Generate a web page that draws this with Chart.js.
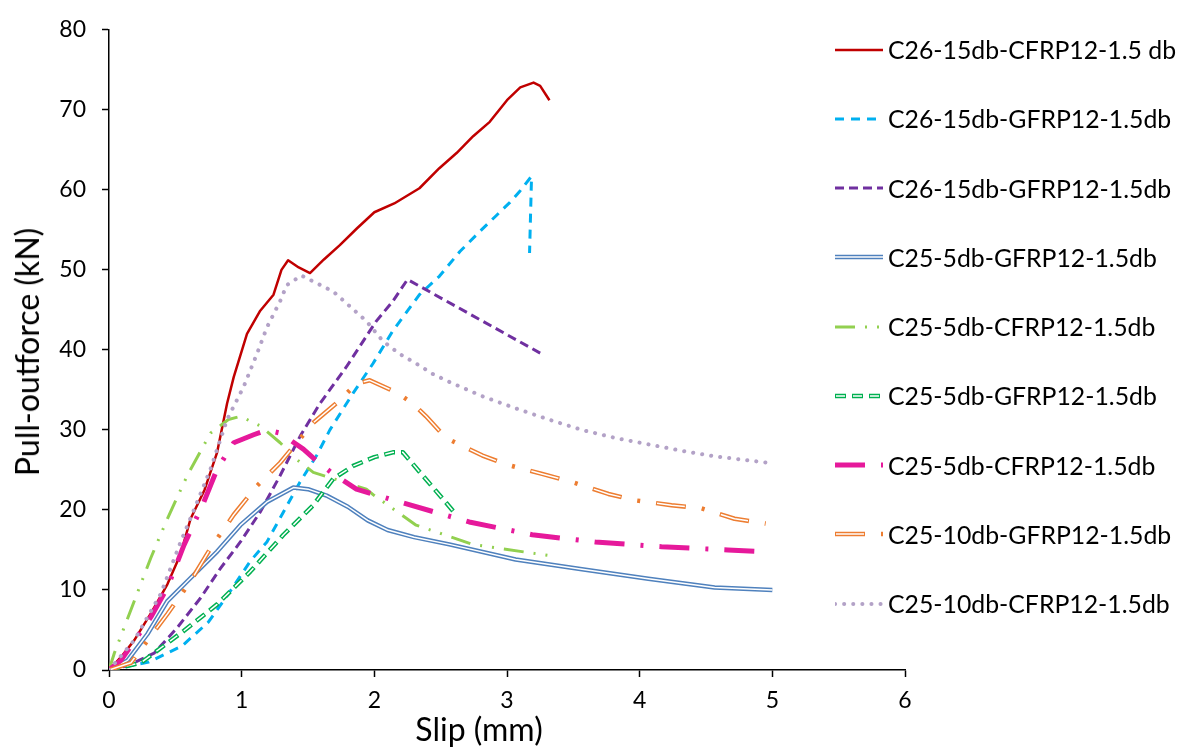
<!DOCTYPE html>
<html>
<head>
<meta charset="utf-8">
<script src="https://cdn.jsdelivr.net/npm/chart.js@4.4.1/dist/chart.umd.min.js"></script>
<style>
  html, body { margin: 0; padding: 0; background: #fff; }
  #wrap { position: relative; width: 1189px; height: 754px; font-family: Lato, "Open Sans", sans-serif; color: #000; }
  #chart { position: absolute; left: 0; top: 0; }
  .axis-title { position: absolute; font-size: 32px; white-space: nowrap; line-height: 1; }
  #xtitle { left: 479px; top: 729px; transform: translate(-50%, -50%); }
  #ytitle { left: 27px; top: 352px; transform: translate(-50%, -50%) rotate(-90deg); }
  #legend { position: absolute; left: 835px; top: 15px; }
  .row { display: flex; align-items: center; height: 69.25px; }
  .row svg { width: 48px; height: 12px; margin-right: 5px; flex: none; }
  .row span { font-size: 24.8px; white-space: nowrap; }
</style>
</head>
<body>
<div id="wrap">
  <canvas id="chart" width="1189" height="754"></canvas>
  <div id="ytitle" class="axis-title">Pull-outforce (kN)</div>
  <div id="xtitle" class="axis-title">Slip (mm)</div>
  <div id="legend"></div>
</div>
<script>
// --- Data (slip in mm, force in kN) ---
const seriesLabels = [
    'C26-15db-CFRP12-1.5 db',
    'C26-15db-GFRP12-1.5db',
    'C26-15db-GFRP12-1.5db',
    'C25-5db-GFRP12-1.5db',
    'C25-5db-CFRP12-1.5db',
    'C25-5db-GFRP12-1.5db',
    'C25-5db-CFRP12-1.5db',
    'C25-10db-GFRP12-1.5db',
    'C25-10db-CFRP12-1.5db'
];

const slip1 = [0, 0.10, 0.19, 0.32, 0.44, 0.54, 0.615, 0.72, 0.815, 0.89, 0.94, 1.04, 1.14, 1.24, 1.30, 1.35, 1.43, 1.515, 1.62, 1.74, 1.87, 2.0, 2.15, 2.34, 2.49, 2.62, 2.745, 2.87, 3.0, 3.1, 3.2, 3.25, 3.32];
const force1 = [0, 1.8, 3.7, 7.2, 10.7, 14.5, 18.9, 22.5, 27.2, 33.3, 36.6, 42.0, 44.9, 46.9, 50.0, 51.2, 50.3, 49.6, 51.3, 53.1, 55.2, 57.2, 58.3, 60.2, 62.7, 64.6, 66.7, 68.5, 71.2, 72.8, 73.4, 73.0, 71.2];

const slip2 = [0, 0.3, 0.55, 0.75, 0.9, 1.065, 1.19, 1.315, 1.44, 1.565, 1.665, 1.84, 1.99, 2.14, 2.34, 2.49, 2.645, 2.795, 2.92, 3.02, 3.1, 3.185, 3.17];
const force2 = [0, 1.0, 3.0, 6.0, 9.5, 13.6, 16.0, 19.75, 23.5, 26.8, 30.0, 34.6, 38.3, 42.4, 46.9, 49.2, 52.3, 54.8, 56.8, 58.4, 59.9, 61.7, 52.1];

const slip3 = [0, 0.15, 0.34, 0.515, 0.69, 0.84, 0.99, 1.14, 1.29, 1.44, 1.59, 1.79, 2.015, 2.14, 2.25, 3.25];
const force3 = [0, 0.6, 2.1, 5.3, 9.0, 12.7, 16.0, 19.75, 24.3, 29.2, 33.3, 37.9, 43.6, 46.1, 48.8, 39.6];

const slip4 = [0, 0.14, 0.29, 0.44, 0.615, 0.815, 0.99, 1.19, 1.39, 1.5, 1.64, 1.8, 1.95, 2.1, 2.3, 2.565, 3.065, 3.565, 4.065, 4.565, 5.0];
const force4 = [0, 1.2, 4.5, 8.6, 11.5, 14.8, 18.1, 21.0, 22.8, 22.6, 21.8, 20.4, 18.7, 17.5, 16.6, 15.7, 13.8, 12.6, 11.4, 10.3, 10.0];

const slip5 = [0, 0.04, 0.19, 0.315, 0.44, 0.59, 0.765, 0.9, 0.99, 1.14, 1.29, 1.415, 1.54, 1.94, 2.0, 2.315, 2.74, 3.315];
const force5 = [0, 2.1, 8.6, 14.0, 18.9, 24.3, 29.6, 31.3, 31.7, 30.5, 28.4, 26.3, 24.7, 22.6, 21.8, 18.1, 15.7, 14.3];

const slip6 = [0, 0.24, 0.565, 0.815, 1.065, 1.315, 1.54, 1.69, 1.84, 2.0, 2.14, 2.215, 2.365, 2.515, 2.6];
const force6 = [0, 0.9, 4.9, 8.2, 12.3, 16.9, 20.6, 23.9, 25.5, 26.6, 27.2, 27.2, 24.3, 21.4, 19.75];

const slip7 = [0, 0.09, 0.315, 0.44, 0.565, 0.715, 0.815, 0.94, 1.09, 1.19, 1.29, 1.465, 1.58, 1.69, 1.865, 2.19, 2.715, 3.19, 3.665, 4.165, 4.665, 4.915];
const force7 = [0, 1.2, 6.6, 10.3, 15.6, 21.0, 25.1, 28.4, 29.4, 30.0, 29.6, 27.6, 25.9, 24.5, 22.6, 21.0, 18.5, 16.9, 16.0, 15.4, 15.0, 14.8];

const slip8 = [0, 0.165, 0.44, 0.615, 0.765, 0.94, 1.115, 1.29, 1.54, 1.74, 1.865, 1.965, 2.165, 2.29, 2.39, 2.54, 2.665, 2.815, 2.99, 3.265, 3.49, 3.765, 3.965, 4.24, 4.465, 4.715, 4.95];
const force8 = [0, 0.9, 7.0, 11.1, 15.2, 19.4, 23.0, 25.9, 30.9, 33.7, 35.8, 36.2, 34.7, 33.3, 31.7, 29.0, 28.0, 26.8, 25.7, 24.5, 23.5, 22.0, 21.2, 20.6, 20.2, 18.9, 18.3];

const slip9 = [0, 0.19, 0.39, 0.54, 0.665, 0.765, 0.89, 1.015, 1.115, 1.19, 1.29, 1.34, 1.45, 1.69, 1.94, 2.065, 2.19, 2.315, 2.44, 2.565, 2.815, 3.065, 3.315, 3.565, 3.815, 4.065, 4.315, 4.565, 4.965];
const force9 = [0, 3.7, 9.5, 16.0, 21.0, 25.1, 31.3, 35.4, 39.5, 42.8, 46.1, 48.1, 49.3, 47.3, 43.6, 41.1, 39.5, 38.3, 37.0, 36.0, 34.2, 32.7, 31.3, 30.0, 29.0, 28.2, 27.4, 26.7, 25.9];

const xTicks = [0, 1, 2, 3, 4, 5, 6];
const yTicks = [0, 10, 20, 30, 40, 50, 60, 70, 80];

// --- Line styles (double = outlined line with white core) ---
const styles = [
    { color: '#C00000', width: 2.5, dash: [] },
    { color: '#00B0F0', width: 3, dash: [9, 7] },
    { color: '#7030A0', width: 3, dash: [9, 5] },
    { color: '#4F81BD', width: 4.5, dash: [], double: true, coreDash: [] },
    { color: '#92D050', width: 3, dash: [20, 10, 2, 10, 2, 10] },
    { color: '#00B050', width: 4.5, dash: [11, 6], double: true, coreDash: [9, 8], coreOffset: -1 },
    { color: '#E6199B', width: 5, dash: [30, 16, 3, 16] },
    { color: '#ED7D31', width: 4.5, dash: [30, 16, 3, 16], double: true, coreDash: [28, 37], coreOffset: -1 },
    { color: '#B3A2C7', width: 4, dash: [0.1, 9], cap: 'round' }
];

const seriesData = [
    [slip1, force1], [slip2, force2], [slip3, force3], [slip4, force4], [slip5, force5],
    [slip6, force6], [slip7, force7], [slip8, force8], [slip9, force9]
];

const toPoints = (xs, ys) => xs.map((x, i) => ({ x: x, y: ys[i] }));

// --- Build datasets ---
const datasets = [];
seriesData.forEach(([xs, ys], i) => {
    const st = styles[i];
    datasets.push({
        label: seriesLabels[i],
        data: toPoints(xs, ys),
        showLine: true,
        borderColor: st.color,
        borderWidth: st.width,
        borderDash: st.dash,
        borderCapStyle: st.cap || 'butt',
        borderJoinStyle: 'round',
        pointRadius: 0,
        tension: 0,
        order: -2 * i
    });
    if (st.double) {
        datasets.push({
            label: '',
            data: toPoints(xs, ys),
            showLine: true,
            borderColor: '#ffffff',
            borderWidth: st.width - 3,
            borderDash: st.coreDash,
            borderDashOffset: st.coreOffset || 0,
            borderCapStyle: 'butt',
            borderJoinStyle: 'round',
            pointRadius: 0,
            tension: 0,
            order: -2 * i - 1
        });
    }
});

const tickFont = { family: 'Lato, "Open Sans", sans-serif', size: 23 };

new Chart(document.getElementById('chart').getContext('2d'), {
    type: 'scatter',
    data: { datasets: datasets },
    options: {
        responsive: false,
        animation: false,
        layout: { padding: { left: 10, top: 22, right: 284, bottom: 10 } },
        plugins: { legend: { display: false }, tooltip: { enabled: false } },
        scales: {
            x: {
                type: 'linear',
                min: 0, max: 6,
                afterBuildTicks: (axis) => { axis.ticks = xTicks.map(v => ({ value: v })); },
                afterFit: (axis) => { axis.height = 74; },
                border: { display: true, color: '#000', width: 1.5 },
                grid: { drawOnChartArea: false, drawTicks: true, tickLength: 7, tickColor: '#000', tickWidth: 1.5 },
                ticks: { color: '#000', font: tickFont, padding: 10, maxRotation: 0 }
            },
            y: {
                type: 'linear',
                min: 0, max: 80,
                afterBuildTicks: (axis) => { axis.ticks = yTicks.map(v => ({ value: v })); },
                afterFit: (axis) => { axis.width = 99; },
                border: { display: true, color: '#000', width: 1.5 },
                grid: { drawOnChartArea: false, drawTicks: true, tickLength: 7, tickColor: '#000', tickWidth: 1.5 },
                ticks: { color: '#000', font: tickFont, padding: 16 }
            }
        }
    }
});

// --- HTML legend with line samples ---
const legend = document.getElementById('legend');
styles.forEach((st, i) => {
    const row = document.createElement('div');
    row.className = 'row';
    const dashAttr = (d) => d && d.length ? ` stroke-dasharray="${d.join(' ')}"` : '';
    let svg = `<svg viewBox="0 0 48 12"><line x1="0" y1="6" x2="48" y2="6" stroke="${st.color}" stroke-width="${st.width}"${dashAttr(st.dash)} stroke-linecap="${st.cap || 'butt'}"/>`;
    if (st.double) {
        svg += `<line x1="0" y1="6" x2="48" y2="6" stroke="#fff" stroke-width="${st.width - 3}"${dashAttr(st.coreDash)} stroke-dashoffset="${st.coreOffset || 0}"/>`;
    }
    svg += '</svg>';
    row.innerHTML = svg + `<span>${seriesLabels[i]}</span>`;
    legend.appendChild(row);
});
</script>
</body>
</html>
